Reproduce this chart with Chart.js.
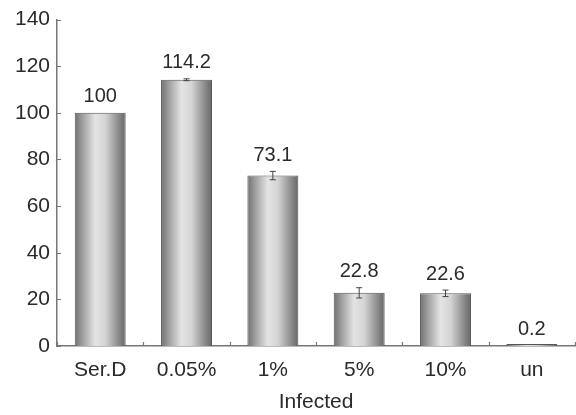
<!DOCTYPE html>
<html>
<head>
<meta charset="utf-8">
<script src="https://cdn.jsdelivr.net/npm/chart.js@4/dist/chart.umd.min.js"></script>
<style>
  html, body { margin: 0; padding: 0; background: #fff; }
  #chart { display: block; }
</style>
</head>
<body>
<canvas id="chart" width="576" height="415"></canvas>
<script>
// datos
const categories = ['Ser.D', '0.05%', '1%', '5%', '10%', 'un'];
const values = [100, 114.2, 73.1, 22.8, 22.6, 0.2];
const errors = [0, 0.4, 1.8, 2.2, 1.4, 0];
const yTicks = [0, 20, 40, 60, 80, 100, 120, 140];
const xTitle = 'Infected';

const FONT = "'Liberation Sans', Arial, Helvetica, sans-serif";
const TEXT = '#2a2a2a';
const AXIS = '#777';
const BAR_PCT = 0.59;

// degradado tipo cilindro
function barGradient(c) {
  if (c.type !== 'data') return '#bbb';
  const x = c.chart.scales.x;
  if (!x || !x.width) return '#bbb';
  const cx = x.getPixelForValue(c.dataIndex);
  const w = x.width / categories.length * BAR_PCT;
  const g = c.chart.ctx.createLinearGradient(cx - w / 2, 0, cx + w / 2, 0);
  g.addColorStop(0, '#707070');
  g.addColorStop(0.15, '#9e9e9e');
  g.addColorStop(0.4, '#e4e4e4');
  g.addColorStop(0.6, '#d4d4d4');
  g.addColorStop(0.85, '#8e8e8e');
  g.addColorStop(1, '#666');
  return g;
}

// ticks hacia dentro, barras de error y etiquetas de valor
const extras = {
  id: 'extras',
  afterDatasetsDraw(chart) {
    const { ctx, scales: { x, y } } = chart;
    const meta = chart.getDatasetMeta(0);
    ctx.save();
    // barras de error
    ctx.strokeStyle = '#444';
    ctx.lineWidth = 1;
    meta.data.forEach((el, i) => {
      if (!errors[i]) return;
      const top = y.getPixelForValue(values[i] + errors[i]);
      const bot = y.getPixelForValue(values[i] - errors[i]);
      ctx.beginPath();
      ctx.moveTo(el.x, top); ctx.lineTo(el.x, bot);
      ctx.moveTo(el.x - 3, top); ctx.lineTo(el.x + 3, top);
      ctx.moveTo(el.x - 3, bot); ctx.lineTo(el.x + 3, bot);
      ctx.stroke();
    });
    // etiquetas
    ctx.fillStyle = TEXT;
    ctx.font = '20px ' + FONT;
    ctx.textAlign = 'center';
    ctx.textBaseline = 'middle';
    meta.data.forEach((el, i) => {
      const yy = y.getPixelForValue(values[i] + errors[i]) - 16;
      ctx.fillText(String(values[i]), el.x, yy);
    });
    // ticks
    ctx.strokeStyle = AXIS;
    ctx.lineWidth = 1.2;
    ctx.beginPath();
    yTicks.forEach(v => {
      const py = Math.round(y.getPixelForValue(v)) + 0.5;
      ctx.moveTo(x.left, py); ctx.lineTo(x.left + 4, py);
    });
    for (let i = 0; i <= categories.length; i++) {
      const px = Math.round(x.getPixelForValue(i - 0.5)) + 0.5;
      ctx.moveTo(px, y.bottom); ctx.lineTo(px, y.bottom - 4);
    }
    ctx.stroke();
    ctx.restore();
  }
};

new Chart(document.getElementById('chart'), {
  type: 'bar',
  data: {
    labels: categories,
    datasets: [{
      data: values,
      backgroundColor: barGradient,
      borderColor: '#555',
      borderWidth: 1,
      minBarLength: 2,
      barPercentage: BAR_PCT,
      categoryPercentage: 1
    }]
  },
  options: {
    responsive: false,
    animation: false,
    layout: { padding: { top: 15, left: 8, right: 1, bottom: 0 } },
    plugins: { legend: { display: false }, tooltip: { enabled: false } },
    scales: {
      x: {
        grid: { display: false, drawTicks: false },
        border: { display: true, color: AXIS, width: 1.5 },
        ticks: { color: TEXT, font: { size: 21, family: FONT }, padding: 12, maxRotation: 0, autoSkip: false },
        title: { display: true, text: xTitle, color: TEXT, font: { size: 21, family: FONT }, padding: 0 },
        afterFit(scale) { scale.height = 69; }
      },
      y: {
        min: 0,
        max: 140,
        grid: { display: false, drawTicks: false },
        border: { display: true, color: AXIS, width: 1.5 },
        ticks: { stepSize: 20, color: TEXT, font: { size: 21, family: FONT }, padding: 7 }
      }
    }
  },
  plugins: [extras]
});
</script>
</body>
</html>
